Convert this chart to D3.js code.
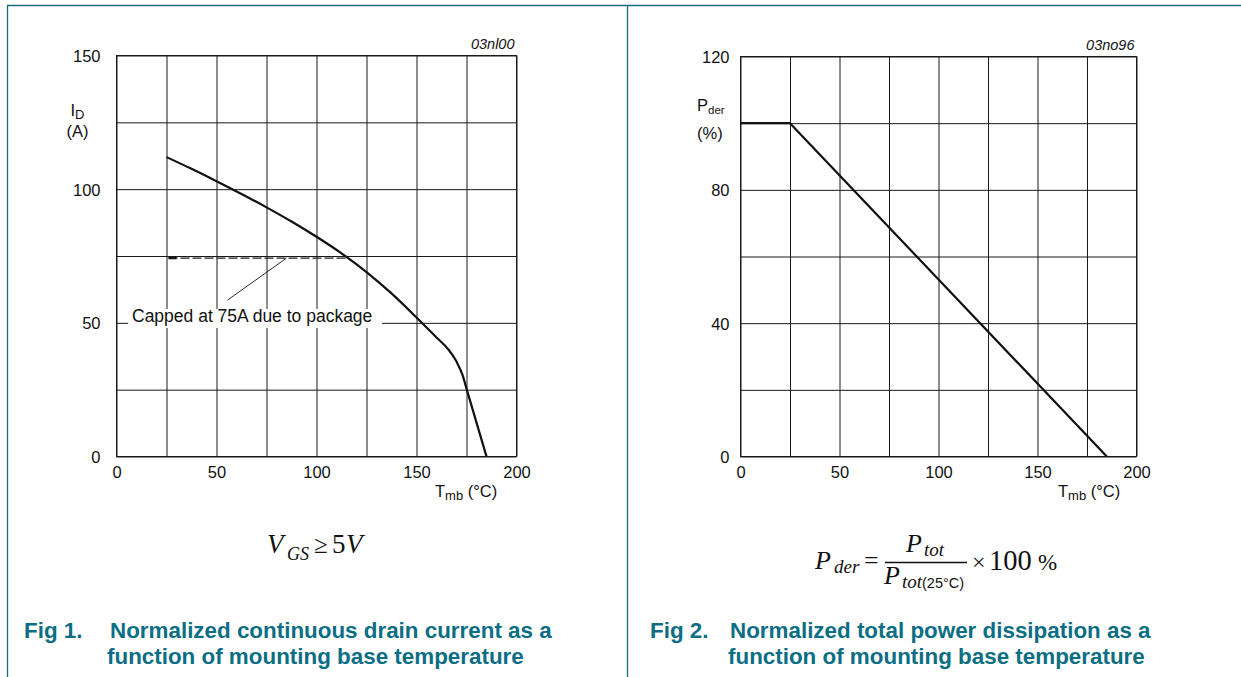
<!DOCTYPE html>
<html>
<head>
<meta charset="utf-8">
<script src="https://cdn.jsdelivr.net/npm/d3@7"></script>
<style>
  html, body { margin: 0; padding: 0; background: #fff; }
  svg { display: block; }
  .tick text { font-family: "Liberation Sans", Arial, sans-serif; font-size: 16.5px; fill: #111; }
  .lbl { font-family: "Liberation Sans", Arial, sans-serif; fill: #111; }
  .math { font-family: "Liberation Serif", "Times New Roman", serif; fill: #111; }
  .cap { font-family: "Liberation Sans", Arial, sans-serif; font-weight: bold; font-size: 22.4px; fill: #0b6e84; }
</style>
</head>
<body>
<script>
// Fig 1: continuous drain current vs. mounting base temperature
const idTemps   = [25, 37.5, 50, 62.5, 75, 87.5, 100, 112.5, 125, 137.5, 150, 160, 166, 170, 173, 175, 185];
const idCurrent = [112, 107.6, 103, 98.2, 93.2, 87.9, 82.2, 76, 69, 61, 52, 44.5, 40, 35.5, 30.5, 25.4, 0];
const capTemps  = [26, 114.5];
const capLevel  = 74.2;
const leaderFrom = [85, 74.2];
const leaderTo   = [55.5, 58.5];
const idXTicks = [0, 50, 100, 150, 200];
const idYTicks = [0, 50, 100, 150];

// Fig 2: derating of total power dissipation
const pTemps = [0, 25, 185];
const pDer   = [100, 100, 0];
const pXTicks = [0, 50, 100, 150, 200];
const pYTicks = [0, 40, 80, 120];

const W = 1241, H = 677;
const teal = "#1b6b80";

const svg = d3.select("body").append("svg").attr("width", W).attr("height", H);

// page frame: top rule, left rule, column divider
svg.append("line").attr("x1", 7).attr("x2", W).attr("y1", 5.5).attr("y2", 5.5)
  .attr("stroke", teal).attr("stroke-width", 1.5);
svg.append("line").attr("x1", 7.5).attr("x2", 7.5).attr("y1", 5).attr("y2", H)
  .attr("stroke", teal).attr("stroke-width", 1.3);
svg.append("line").attr("x1", 627.5).attr("x2", 627.5).attr("y1", 5).attr("y2", H)
  .attr("stroke", teal).attr("stroke-width", 1.3);

function gridChart(opt) {
  const g = svg.append("g");
  const x = d3.scaleLinear().domain([0, 200]).range([opt.left, opt.right]);
  const y = d3.scaleLinear().domain([0, opt.ymax]).range([opt.bottom, opt.top]);
  const xGrid = d3.range(0, 201, 25);
  const yGrid = d3.range(0, opt.ymax + 0.001, opt.ystep);

  const xAxis = d3.axisBottom(x).tickValues(xGrid)
    .tickSize(-(opt.bottom - opt.top)).tickPadding(10)
    .tickFormat(d => opt.xTicks.includes(d) ? d : "");
  const yAxis = d3.axisLeft(y).tickValues(yGrid)
    .tickSize(-(opt.right - opt.left)).tickPadding(opt.ypad)
    .tickFormat(d => opt.yTicks.includes(d) ? d : "");

  const gx = g.append("g").attr("transform", `translate(0,${opt.bottom})`).call(xAxis);
  const gy = g.append("g").attr("transform", `translate(${opt.left},0)`).call(yAxis);
  [gx, gy].forEach(a => {
    a.select(".domain").remove();
    a.selectAll(".tick line").attr("stroke", "#1a1a1a").attr("stroke-width", 1);
  });
  gy.selectAll(".tick text").attr("dy", "0.36em");

  g.append("rect")
    .attr("x", opt.left).attr("y", opt.top)
    .attr("width", opt.right - opt.left).attr("height", opt.bottom - opt.top)
    .attr("fill", "none").attr("stroke", "#1a1a1a").attr("stroke-width", 1);

  // drawing code
  g.append("text").attr("class", "lbl")
    .attr("x", opt.right - 2).attr("y", opt.top - 7)
    .attr("text-anchor", "end").attr("font-size", 14.5).attr("font-style", "italic")
    .text(opt.code);
  return { g, x, y };
}

// ---------- Fig 1 ----------
const c1 = gridChart({
  left: 116.5, right: 516.5, top: 55.5, bottom: 456.5,
  ymax: 150, ystep: 25, ypad: 16,
  xTicks: idXTicks, yTicks: idYTicks, code: "03nl00"
});

// package-limit dashed level
c1.g.append("line")
  .attr("x1", c1.x(capTemps[0])).attr("x2", c1.x(capTemps[1]))
  .attr("y1", c1.y(capLevel)).attr("y2", c1.y(capLevel))
  .attr("stroke", "#222").attr("stroke-width", 1.2).attr("stroke-dasharray", "9,3");
c1.g.append("line")
  .attr("x1", c1.x(capTemps[0])).attr("x2", c1.x(capTemps[0] + 4))
  .attr("y1", c1.y(capLevel)).attr("y2", c1.y(capLevel))
  .attr("stroke", "#111").attr("stroke-width", 2.2);

// leader line to the note
c1.g.append("line")
  .attr("x1", c1.x(leaderFrom[0])).attr("y1", c1.y(leaderFrom[1]))
  .attr("x2", c1.x(leaderTo[0])).attr("y2", c1.y(leaderTo[1]))
  .attr("stroke", "#111").attr("stroke-width", 0.9);

// note with white backing over the grid
c1.g.append("rect").attr("x", 128).attr("y", 309).attr("width", 254).attr("height", 19).attr("fill", "#fff");
c1.g.append("text").attr("class", "lbl").attr("x", 132).attr("y", 321.5)
  .attr("font-size", 17.5).text("Capped at 75A due to package");

// drain current curve
c1.g.append("path")
  .datum(idTemps.map((t, i) => [t, idCurrent[i]]))
  .attr("fill", "none").attr("stroke", "#111").attr("stroke-width", 2.2)
  .attr("stroke-linejoin", "round")
  .attr("d", d3.line().x(d => c1.x(d[0])).y(d => c1.y(d[1])).curve(d3.curveMonotoneX));

// axis titles
const idLab = c1.g.append("text").attr("class", "lbl").attr("x", 70.5).attr("y", 116).attr("font-size", 16.5);
idLab.append("tspan").text("I");
idLab.append("tspan").attr("font-size", 13).attr("dy", 3).text("D");
c1.g.append("text").attr("class", "lbl").attr("x", 66.5).attr("y", 137).attr("font-size", 16.5).text("(A)");
const tLab1 = c1.g.append("text").attr("class", "lbl").attr("x", 435).attr("y", 497).attr("font-size", 16.5);
tLab1.append("tspan").text("T");
tLab1.append("tspan").attr("font-size", 13).attr("dy", 3).text("mb");
tLab1.append("tspan").attr("dy", -3).text(" (°C)");

// ---------- Fig 2 ----------
const c2 = gridChart({
  left: 740.5, right: 1136.5, top: 56.5, bottom: 456.5,
  ymax: 120, ystep: 20, ypad: 11,
  xTicks: pXTicks, yTicks: pYTicks, code: "03no96"
});

c2.g.append("path")
  .datum(pTemps.map((t, i) => [t, pDer[i]]))
  .attr("fill", "none").attr("stroke", "#111").attr("stroke-width", 2.2)
  .attr("stroke-linejoin", "round")
  .attr("d", d3.line().x(d => c2.x(d[0])).y(d => c2.y(d[1])));

const pLab = c2.g.append("text").attr("class", "lbl").attr("x", 697).attr("y", 111).attr("font-size", 16.5);
pLab.append("tspan").text("P");
pLab.append("tspan").attr("font-size", 11.5).attr("dy", 3).text("der");
c2.g.append("text").attr("class", "lbl").attr("x", 697).attr("y", 139).attr("font-size", 16.5).text("(%)");
const tLab2 = c2.g.append("text").attr("class", "lbl").attr("x", 1058).attr("y", 497).attr("font-size", 16.5);
tLab2.append("tspan").text("T");
tLab2.append("tspan").attr("font-size", 13).attr("dy", 3).text("mb");
tLab2.append("tspan").attr("dy", -3).text(" (°C)");

// ---------- conditions / definitions ----------
function mathText(x, y, size, italic, str, family) {
  const t = svg.append("text").attr("class", "math")
    .attr("x", x).attr("y", y).attr("font-size", size)
    .attr("font-style", italic ? "italic" : "normal").text(str);
  if (family) t.style("font-family", family);
  return t;
}
// V_GS >= 5V
mathText(267, 553, 27, true, "V");
mathText(287, 560, 18, true, "GS");
mathText(314, 553, 25, false, "≥");
mathText(332, 553, 27, false, "5");
mathText(346, 553, 27, true, "V");

// P_der = P_tot / P_tot(25°C) x 100 %
mathText(815, 569, 26, true, "P");
mathText(834, 573, 19, true, "der");
mathText(864, 569, 26, false, "=");
mathText(906, 552, 26, true, "P");
mathText(924, 556, 19, true, "tot");
svg.append("line").attr("x1", 885).attr("x2", 967).attr("y1", 562.5).attr("y2", 562.5)
  .attr("stroke", "#111").attr("stroke-width", 1.4);
mathText(884, 584, 26, true, "P");
mathText(902, 588, 19, true, "tot");
mathText(922, 588, 14.5, false, "(25°C)", "'Liberation Sans', Arial, sans-serif");
mathText(972, 570, 24, false, "×");
mathText(989, 570, 28.5, false, "100");
mathText(1038, 570, 23, false, "%");

// ---------- figure captions ----------
svg.append("text").attr("class", "cap").attr("x", 24).attr("y", 638).text("Fig 1.");
svg.append("text").attr("class", "cap").attr("x", 110).attr("y", 638).text("Normalized continuous drain current as a");
svg.append("text").attr("class", "cap").attr("x", 107).attr("y", 664).text("function of mounting base temperature");
svg.append("text").attr("class", "cap").attr("x", 650).attr("y", 638).text("Fig 2.");
svg.append("text").attr("class", "cap").attr("x", 730).attr("y", 638).text("Normalized total power dissipation as a");
svg.append("text").attr("class", "cap").attr("x", 728).attr("y", 664).text("function of mounting base temperature");
</script>
</body>
</html>
